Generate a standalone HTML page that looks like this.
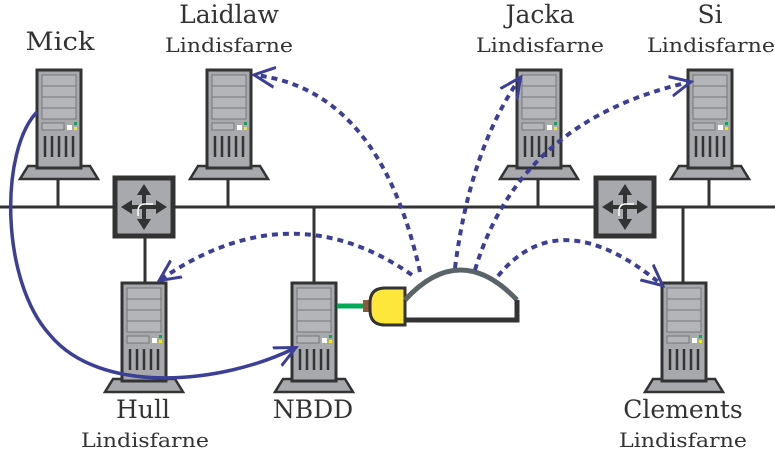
<!DOCTYPE html>
<html><head><meta charset="utf-8"><style>body{margin:0;background:#fff}svg{display:block}text{font-family:"DejaVu Serif","Liberation Serif",serif;fill:#333}</style></head><body>
<svg width="775" height="453" viewBox="0 0 775 453" xmlns="http://www.w3.org/2000/svg">
<defs>
<g id="srv">
<polygon points="-9,96 53,96 61,109 -17,109" fill="#a7a9ad" stroke="#333" stroke-width="2.5"/>
<rect x="0" y="0" width="44" height="98" fill="#a7a9ad" stroke="#333" stroke-width="3"/>
<rect x="5" y="5" width="34" height="11" fill="#b3b5b9" stroke="#777" stroke-width="1"/>
<rect x="5" y="16" width="34" height="11" fill="#b3b5b9" stroke="#777" stroke-width="1"/>
<rect x="5" y="27" width="34" height="11" fill="#b3b5b9" stroke="#777" stroke-width="1"/>
<rect x="5" y="38" width="34" height="11" fill="#b3b5b9" stroke="#777" stroke-width="1"/>
<rect x="5" y="53" width="22" height="7" fill="#b3b5b9" stroke="#777" stroke-width="1"/>
<rect x="30" y="55" width="5" height="5" fill="#fff"/>
<rect x="37" y="52" width="3" height="3" fill="#0a5"/>
<rect x="37" y="57" width="3" height="3" fill="#ee0"/>
<g stroke="#333" stroke-width="2.5"><line x1="8" y1="66" x2="8" y2="87"/><line x1="15" y1="66" x2="15" y2="87"/><line x1="22" y1="66" x2="22" y2="87"/><line x1="29" y1="66" x2="29" y2="87"/><line x1="36" y1="66" x2="36" y2="87"/></g>
</g>
<g id="sw">
<rect x="2" y="2" width="58" height="58" fill="#a7a9ad" stroke="#333" stroke-width="5"/>
<g fill="#333"><polygon points="31,8 24,19 38,19"/><polygon points="31,54 24,43 38,43"/><polygon points="8,31 19,24 19,38"/><polygon points="54,31 43,24 43,38"/></g>
<g stroke="#333" stroke-width="4" fill="none"><line x1="31" y1="17" x2="31" y2="45"/><line x1="17" y1="31" x2="45" y2="31"/></g>
<path d="M25,40 V35 Q25,28 32,28 H40" stroke="#fff" stroke-width="1.5" fill="none"/>
</g>
<marker id="ah2" markerWidth="24" markerHeight="24" refX="20" refY="12" orient="auto" markerUnits="userSpaceOnUse"><path d="M0,2 L21,12 L0,22" fill="none" stroke="#3c3f96" stroke-width="3"/></marker>
</defs>
<line x1="0" y1="207" x2="775" y2="207" stroke="#333" stroke-width="3"/>
<g stroke="#333" stroke-width="3">
<line x1="58" y1="178" x2="58" y2="207"/><line x1="228" y1="178" x2="228" y2="207"/><line x1="538" y1="178" x2="538" y2="207"/><line x1="709" y1="178" x2="709" y2="207"/>
<line x1="145" y1="207" x2="145" y2="283"/><line x1="314" y1="207" x2="314" y2="283"/><line x1="683" y1="207" x2="683" y2="283"/>
</g>
<use href="#srv" x="37" y="70"/><use href="#srv" x="207" y="70"/><use href="#srv" x="517" y="70"/><use href="#srv" x="688" y="70"/>
<use href="#srv" x="122" y="283"/><use href="#srv" x="292" y="283"/><use href="#srv" x="662" y="283"/>
<use href="#sw" x="113" y="176"/><use href="#sw" x="594" y="176"/>
<line x1="337" y1="306" x2="364" y2="306" stroke="#0a5" stroke-width="5"/>
<rect x="363" y="300" width="8" height="12" fill="#8a5a3a"/>
<path d="M405,288 H385 Q370,288 370,303 V310 Q370,325 385,325 H405 Z" fill="#fde73a" stroke="#333" stroke-width="3"/>
<path d="M405,300 Q460,240 517,300" fill="none" stroke="#5a6468" stroke-width="5"/>
<path d="M405,320 H517 V300" fill="none" stroke="#333" stroke-width="5"/>
<g fill="none" stroke="#3c3f96" stroke-width="4" stroke-dasharray="6,5">
<path d="M420,272 Q380,90 255,75" marker-end="url(#ah2)"/>
<path d="M455,268 Q470,150 520,78" marker-end="url(#ah2)"/>
<path d="M475,270 Q520,120 690,82" marker-end="url(#ah2)"/>
<path d="M498,276 Q560,200 662,285" marker-end="url(#ah2)"/>
<path d="M412,275 Q290,190 160,280" marker-end="url(#ah2)"/>
</g>
<path d="M37,112 C0,150 0,280 50,335 C100,395 220,385 295,348" fill="none" stroke="#3c3f96" stroke-width="3.5" marker-end="url(#ah2)"/>
<g text-anchor="middle" lengthAdjust="spacingAndGlyphs">
<text x="60" y="50" font-size="25" textLength="69" lengthAdjust="spacingAndGlyphs">Mick</text>
<text x="229" y="23" font-size="25">Laidlaw</text>
<text x="229" y="52" font-size="20" textLength="128" lengthAdjust="spacingAndGlyphs">Lindisfarne</text>
<text x="540" y="23" font-size="25">Jacka</text>
<text x="540" y="52" font-size="20" textLength="128" lengthAdjust="spacingAndGlyphs">Lindisfarne</text>
<text x="710" y="23" font-size="25">Si</text>
<text x="711" y="52" font-size="20" textLength="128" lengthAdjust="spacingAndGlyphs">Lindisfarne</text>
<text x="143" y="418" font-size="25">Hull</text>
<text x="145" y="447" font-size="20" textLength="128" lengthAdjust="spacingAndGlyphs">Lindisfarne</text>
<text x="313" y="418" font-size="25">NBDD</text>
<text x="683" y="418" font-size="25">Clements</text>
<text x="683" y="447" font-size="20" textLength="128" lengthAdjust="spacingAndGlyphs">Lindisfarne</text>
</g>
</svg>
</body></html>
